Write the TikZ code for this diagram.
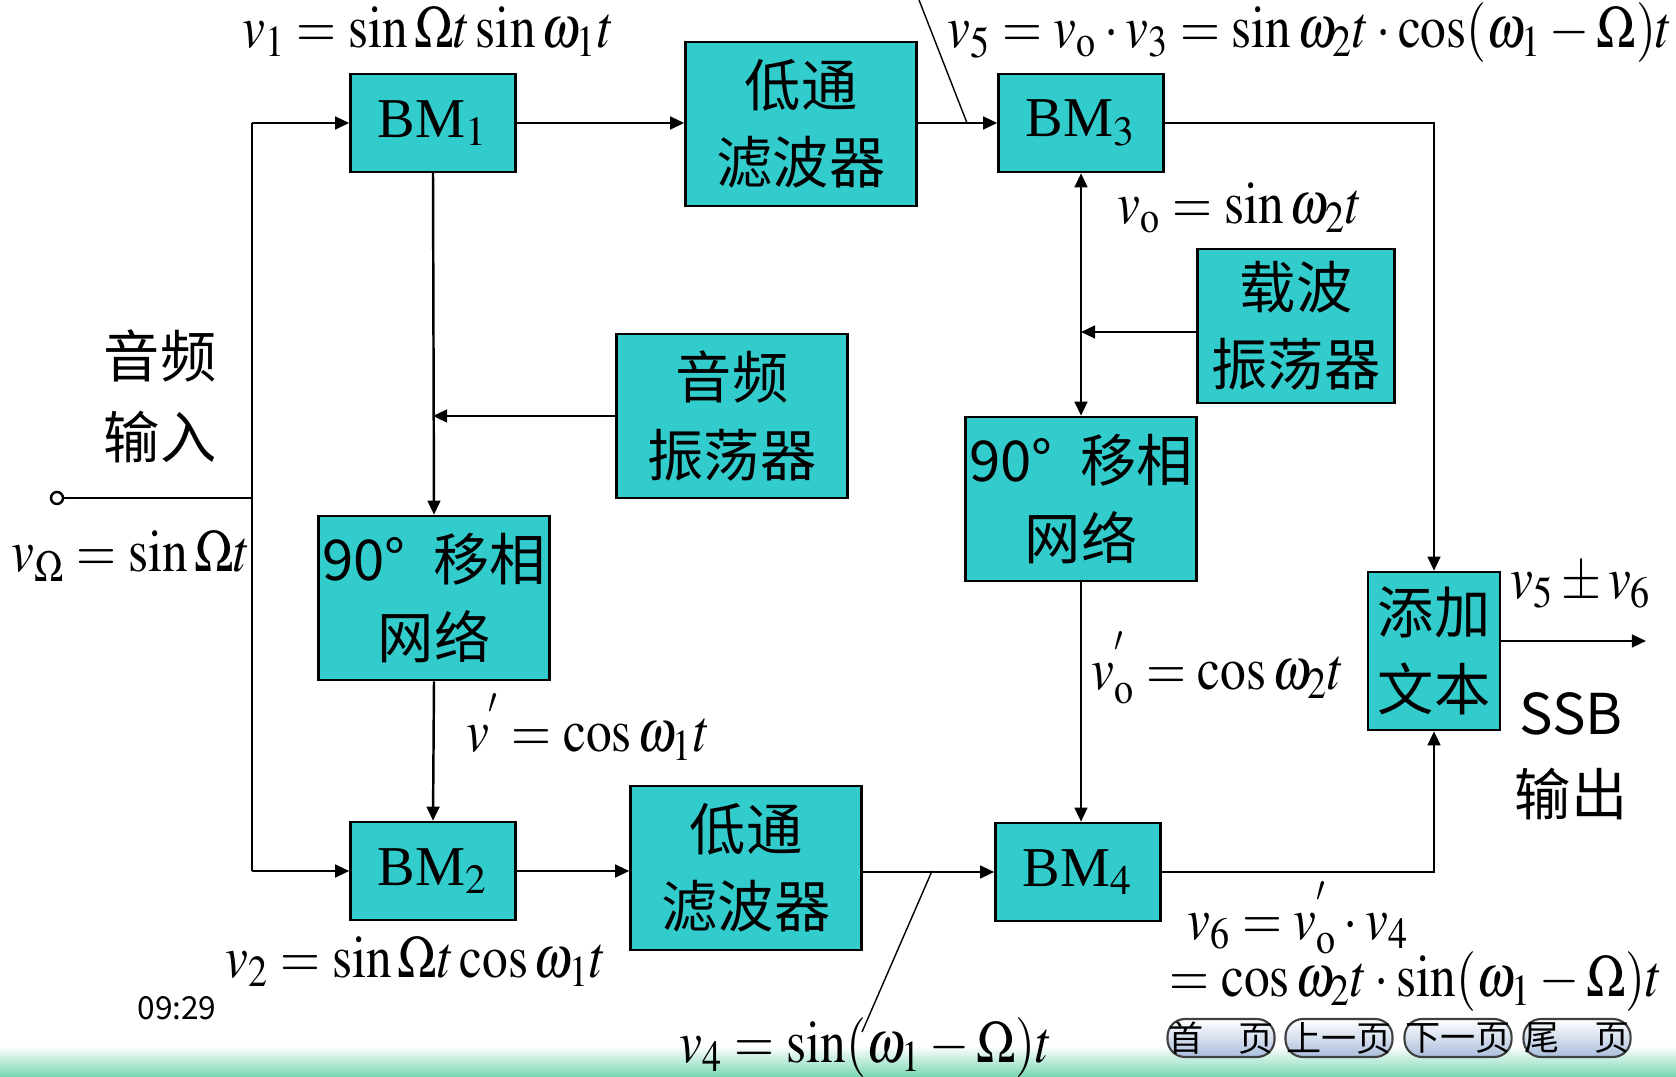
\documentclass[tikz,border=0pt]{standalone}
\usepackage{mathptmx}
\usepackage{fontspec}
\setmainfont{Liberation Serif}
\newfontfamily\cjk{Noto Sans CJK SC}
\usepackage{graphicx}
\usepackage{tikz}
\usetikzlibrary{
	arrows.meta,
	positioning,
	shadings
}
\definecolor{BoxCyan}{RGB}{51,204,204}
\definecolor{StripGreen}{RGB}{118,214,176}
\definecolor{BtnBlue}{RGB}{170,190,220}
\newcommand{\fml}[1]{\scalebox{0.86}[1]{$#1$}}

\begin{document}
\begin{tikzpicture}[x=0.01cm,y=-0.01cm,
	blk/.style={draw=black,line width=0.7pt,fill=BoxCyan,inner sep=0pt,align=center,font=\cjk\fontsize{16}{22}\selectfont},
	bm/.style={blk,minimum width=1.65cm,minimum height=0.98cm,font=\fontsize{16}{20}\selectfont},
	big/.style={blk,minimum width=2.31cm,minimum height=1.64cm},
	wire/.style={line width=0.7pt},
	sig/.style={wire,-{Triangle[length=4pt,width=3.6pt]}},
	ptr/.style={line width=0.4pt},
	eq/.style={font=\fontsize{17}{20}\selectfont,inner sep=0pt},
	tag/.style={font=\cjk\fontsize{16}{23}\selectfont,inner sep=0pt,align=center},
	btn/.style={draw=black!75,line width=0.6pt,rounded corners=5pt,top color=white,bottom color=BtnBlue,minimum width=1.07cm,minimum height=0.38cm,inner sep=0pt,font=\cjk\fontsize{10}{12}\selectfont}
]
	\useasboundingbox (0,0) rectangle (1676,1077);
	
	% 底部色带
	\shade[top color=white,bottom color=StripGreen] (0,1046) rectangle (1676,1077);
	
	% 方框
	\node[bm] (bm1) at (433,123) {BM$_1$};
	\node[big] (lpf1) at (801,124) {低通\\滤波器};
	\node[bm] (bm3) at (1081,123) {BM$_3$};
	\node[big] (aosc) at (732,416) {音频\\振荡器};
	\node[blk,minimum width=1.97cm,minimum height=1.54cm] (cosc) at (1296,326) {载波\\振荡器};
	\node[big] (ps1) at (434,598) {90°\hspace{0.5em}移相\\网络};
	\node[big] (ps2) at (1081,499) {90°\hspace{0.5em}移相\\网络};
	\node[blk,minimum width=1.32cm,minimum height=1.58cm] (add) at (1434,651) {添加\\文本};
	\node[bm] (bm2) at (433,871) {BM$_2$};
	\node[big] (lpf2) at (746,868) {低通\\滤波器};
	\node[bm] (bm4) at (1078,872) {BM$_4$};
	
	% 输入
	\coordinate (in) at (57,498);
	\coordinate (jn) at (252,498);
	\coordinate (jt) at (252,123);
	\coordinate (jb) at (252,871);
	\draw[wire] (in) -- (jn);
	\draw[wire] (jt) -- (jb);
	\draw[sig] (jt) -- (bm1.west);
	\draw[sig] (jb) -- (bm2.west);
	\draw[wire,fill=white] (in) circle (6);
	
	% 上支路
	\draw[sig] (bm1.east) -- (bm1.east -| lpf1.west);
	\draw[sig] (lpf1.east |- bm3) -- (bm3.west);
	\draw[sig] (bm1.south) -- (ps1.north);
	\draw[sig] (aosc.west) -- (aosc.west -| bm1.south);
	\draw[sig] (ps1.south) -- (bm2.north);
	
	% 下支路
	\draw[sig] (bm2.east) -- (bm2.east -| lpf2.west);
	\draw[sig] (lpf2.east |- bm4) -- (bm4.west);
	
	% 载波
	\coordinate (cin) at (1198,332);
	\draw[wire,{Triangle[length=4pt,width=3.6pt]}-{Triangle[length=4pt,width=3.6pt]}] (bm3.south) -- (ps2.north);
	\draw[sig] (cosc.west |- cin) -- (cin -| ps2.north);
	\draw[sig] (ps2.south) -- (ps2.south |- bm4.north);
	
	% 相加与输出
	\coordinate (out) at (1646,641);
	\draw[sig] (bm3.east) -| (add.north);
	\draw[sig] (bm4.east) -| (add.south);
	\draw[sig] (add.east |- out) -- (out);
	
	% 指示线
	\coordinate (p5) at (919,0);
	\coordinate (t5) at (967,123);
	\coordinate (p4) at (862,1032);
	\coordinate (t4) at (932,871);
	\draw[ptr] (p5) -- (t5);
	\draw[ptr] (p4) -- (t4);
	
	% 公式
	\node[eq] (v1) at (428,32) {\fml{v_1=\sin\Omega t\sin\omega_1 t}};
	\node[eq] (v5) at (1310,33) {\fml{v_5=v_{\mathrm{o}}\cdot v_3=\sin\omega_2 t\cdot\cos(\omega_1-\Omega)t}};
	\node[eq] (vo) at (1240,208) {\fml{v_{\mathrm{o}}=\sin\omega_2 t}};
	\node[eq] (vin) at (131,556) {\fml{v_\Omega=\sin\Omega t}};
	\node[eq] (vp) at (588,727) {\fml{v^{'}=\cos\omega_1 t}};
	\node[eq] (vop) at (1218,668) {\fml{v_{\mathrm{o}}^{'}=\cos\omega_2 t}};
	\node[eq] (vsum) at (1581,586) {\fml{v_5\pm v_6}};
	\node[eq] (v2) at (416,962) {\fml{v_2=\sin\Omega t\cos\omega_1 t}};
	\node[eq] (v4) at (866,1048) {\fml{v_4=\sin(\omega_1-\Omega)t}};
	\node[eq] (v6) at (1298,918) {\fml{v_6=v_{\mathrm{o}}^{'}\cdot v_4}};
	\node[eq] (v6b) at (1416,982) {\fml{=\cos\omega_2 t\cdot\sin(\omega_1-\Omega)t}};
	
	% 文字
	\node[tag] (ain) at (160,396) {音频\\输入};
	\node[tag] (ssb) at (1571,756) {SSB\\输出};
	\node[font=\cjk\fontsize{9}{10}\selectfont,inner sep=0pt] (clk) at (177,1008) {09:29};
	
	% 按钮
	\node[btn] (b1) at (1221,1038) {首　页};
	\node[btn] (b2) at (1339,1038) {上一页};
	\node[btn] (b3) at (1458,1038) {下一页};
	\node[btn] (b4) at (1577,1038) {尾　页};
\end{tikzpicture}
\end{document}
